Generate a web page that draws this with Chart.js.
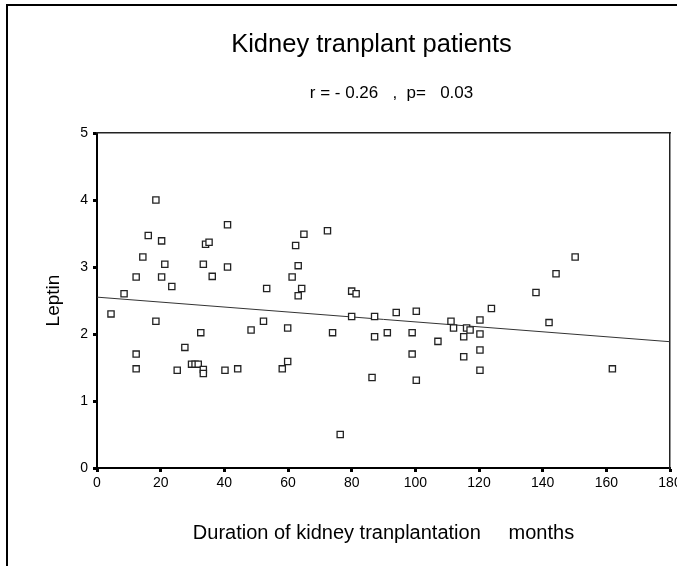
<!DOCTYPE html>
<html>
<head>
<meta charset="utf-8">
<script src="https://cdn.jsdelivr.net/npm/chart.js@4"></script>
<style>
  html, body { margin: 0; padding: 0; background: #fff; }
  #wrap { width: 677px; height: 566px; }
</style>
</head>
<body>
<div id="wrap"><canvas id="leptinChart" width="677" height="566"></canvas></div>
<script>
/* Data Value */
const durationMonths = [
  4.4, 8.5, 12.3, 12.3, 12.3, 14.4, 16.1, 18.5, 18.5, 20.3,
  21.3, 20.3, 23.5, 25.2, 27.6, 29.7, 30.8, 31.8, 33.4, 33.4,
  32.6, 33.4, 34.1, 35.2, 36.2, 41.0, 41.0, 40.2, 44.2, 48.4,
  52.3, 53.3, 58.2, 59.9, 59.9, 61.3, 62.4, 65.0, 63.2, 64.3,
  63.2, 72.4, 80.0, 81.4, 74.0, 76.4, 80.0, 86.4, 87.2, 87.2,
  91.2, 94.0, 99.0, 99.0, 100.3, 100.3, 107.1, 111.2, 112.0, 115.2,
  115.2, 116.1, 117.2, 120.3, 120.3, 120.3, 120.3, 123.9, 142.0, 137.9,
  144.2, 150.2, 161.9,
];
const leptinValues = [
  2.30, 2.60, 2.85, 1.70, 1.48, 3.15, 3.47, 4.00, 2.19, 3.39,
  3.04, 2.85, 2.71, 1.46, 1.80, 1.55, 1.55, 1.55, 1.47, 1.41,
  2.02, 3.04, 3.34, 3.37, 2.86, 3.63, 3.00, 1.46, 1.48, 2.06,
  2.19, 2.68, 1.48, 1.59, 2.09, 2.85, 3.32, 3.49, 3.02, 2.68,
  2.57, 3.54, 2.64, 2.60, 2.02, 0.50, 2.26, 1.35, 2.26, 1.96,
  2.02, 2.32, 2.02, 1.70, 2.34, 1.31, 1.89, 2.19, 2.09, 1.96,
  1.66, 2.09, 2.06, 2.21, 2.00, 1.76, 1.46, 2.38, 2.17, 2.62,
  2.90, 3.15, 1.48,
];
/* fitted line, read at both ends of the x axis */
const fitMonths = [0, 180];
const fitLeptin = [2.55, 1.885];

const xTicks = [0, 20, 40, 60, 80, 100, 120, 140, 160, 180];
const yTicks = [0, 1, 2, 3, 4, 5];

const chartTitle = "Kidney tranplant patients";
const chartSubtitle = "r = - 0.26   ,  p=   0.03";
const xTitle = "Duration of kidney tranplantation     months";
const yTitle = "Leptin";

const FONT = "'Liberation Sans', Arial, sans-serif";

/* outer figure frame (left and top edges) */
const outerFrame = {
  id: "outerFrame",
  beforeDraw(chart) {
    const { ctx } = chart;
    ctx.save();
    ctx.fillStyle = "#fff";
    ctx.fillRect(0, 0, chart.width, chart.height);
    ctx.strokeStyle = "#000";
    ctx.lineWidth = 2;
    ctx.beginPath();
    ctx.moveTo(7, chart.height);
    ctx.lineTo(7, 5);
    ctx.lineTo(chart.width, 5);
    ctx.stroke();
    ctx.restore();
  },
};

/* the two heading lines sit off-centre in the original, so draw them by hand */
const headings = {
  id: "headings",
  afterDraw(chart) {
    const { ctx } = chart;
    ctx.save();
    ctx.fillStyle = "#000";
    ctx.textAlign = "center";
    ctx.textBaseline = "middle";
    ctx.font = `25.5px ${FONT}`;
    ctx.fillText(chartTitle, 371.5, 45);
    ctx.font = `17px ${FONT}`;
    ctx.fillText(chartSubtitle, 391.5, 93);
    ctx.restore();
  },
};

const points = durationMonths.map((x, i) => ({ x, y: leptinValues[i] }));
const fitPoints = fitMonths.map((x, i) => ({ x, y: fitLeptin[i] }));

const tickMarks = {
  display: true,
  drawOnChartArea: false,
  drawTicks: true,
  tickLength: 4,
  tickWidth: 3,
  tickColor: "#000",
};

/* Chart */
const leptinChart = new Chart(document.querySelector("#leptinChart"), {
  type: "scatter",
  data: {
    datasets: [
      {
        type: "line",
        data: fitPoints,
        borderColor: "#333",
        borderWidth: 1,
        pointRadius: 0,
        fill: false,
        order: 2,
      },
      {
        data: points,
        pointStyle: "rect",
        pointRadius: 4.4,
        pointBorderWidth: 1.3,
        pointBorderColor: "#222",
        pointBackgroundColor: "#fff",
        order: 1,
      },
    ],
  },
  options: {
    responsive: false,
    animation: false,
    layout: { padding: { top: 133, right: 7, bottom: 0, left: 0 } },
    scales: {
      x: {
        type: "linear",
        position: "bottom",
        min: 0,
        max: 180,
        afterBuildTicks: (scale) => { scale.ticks = xTicks.map((v) => ({ value: v })); },
        ticks: { color: "#000", font: { family: FONT, size: 14 }, padding: 3, maxRotation: 0 },
        grid: tickMarks,
        border: { display: true, color: "#000", width: 2 },
        title: {
          display: true,
          text: xTitle,
          color: "#000",
          font: { family: FONT, size: 20 },
          padding: { top: 0, bottom: 21 },
        },
        afterFit: (scale) => { scale.height = 98; scale.paddingLeft = 0; scale.paddingRight = 0; },
      },
      y: {
        type: "linear",
        position: "left",
        min: 0,
        max: 5,
        afterBuildTicks: (scale) => { scale.ticks = yTicks.map((v) => ({ value: v })); },
        ticks: { color: "#000", font: { family: FONT, size: 14 }, padding: 5 },
        grid: tickMarks,
        border: { display: true, color: "#000", width: 2 },
        title: {
          display: true,
          text: yTitle,
          color: "#000",
          font: { family: FONT, size: 19 },
          padding: { top: 42.6, bottom: 0 },
        },
        afterFit: (scale) => { scale.width = 97; scale.paddingTop = 0; scale.paddingBottom = 0; },
      },
      xTop: {
        type: "linear",
        position: "top",
        min: 0,
        max: 180,
        ticks: { display: false },
        grid: { display: false, drawTicks: false },
        border: { display: true, color: "#222", width: 1.5 },
        afterFit: (scale) => { scale.height = 0; },
      },
      yRight: {
        type: "linear",
        position: "right",
        min: 0,
        max: 5,
        ticks: { display: false },
        grid: { display: false, drawTicks: false },
        border: { display: true, color: "#222", width: 1.5 },
        afterFit: (scale) => { scale.width = 0; },
      },
    },
    plugins: {
      legend: { display: false },
      tooltip: { enabled: false },
      title: { display: false },
    },
  },
  plugins: [outerFrame, headings],
});
</script>
</body>
</html>
